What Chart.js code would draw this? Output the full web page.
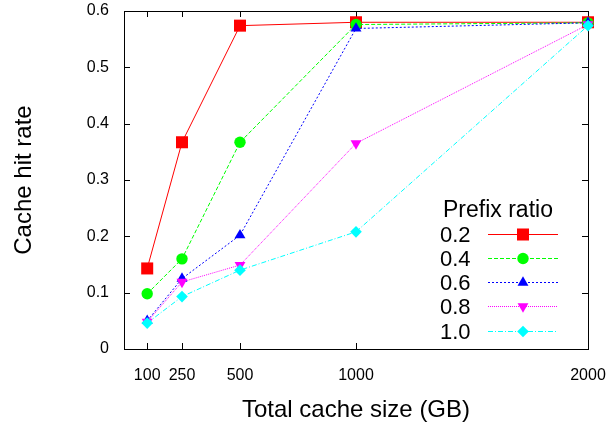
<!DOCTYPE html>
<html><head><meta charset="utf-8">
<script src="https://cdn.jsdelivr.net/npm/chart.js@4.4.1/dist/chart.umd.min.js"></script>
<style>html,body{margin:0;padding:0;background:#fff}#wrap{width:614px;height:425px;position:relative}</style>
</head><body><div id="wrap"><canvas id="c" width="614" height="425"></canvas></div>
<script>
// ---- data ----
const cacheSizes = [100, 250, 500, 1000, 2000];
const seriesNames = ['0.2', '0.4', '0.6', '0.8', '1.0'];
const hit02 = [0.143, 0.367, 0.574, 0.580, 0.580];
const hit04 = [0.098, 0.160, 0.367, 0.576, 0.579];
const hit06 = [0.050, 0.125, 0.202, 0.569, 0.579];
const hit08 = [0.048, 0.119, 0.149, 0.365, 0.576];
const hit10 = [0.046, 0.093, 0.140, 0.208, 0.574];
const xTickValues = [100, 250, 500, 1000, 2000];
const yTickValues = [0, 0.1, 0.2, 0.3, 0.4, 0.5, 0.6];
const legendTitle = 'Prefix ratio';
const xTitle = 'Total cache size (GB)';
const yTitle = 'Cache hit rate';

const seriesValues = [hit02, hit04, hit06, hit08, hit10];
const styles = [
  {color: '#ff0000', dash: [], pointStyle: 'rect', radius: 8.5, rotation: 0},
  {color: '#00ff00', dash: [4, 2], pointStyle: 'circle', radius: 5.7, rotation: 0},
  {color: '#0000ff', dash: [2, 2], pointStyle: 'triangle', radius: 6.3, rotation: 0},
  {color: '#ff00ff', dash: [1, 1], pointStyle: 'triangle', radius: 6.3, rotation: 180},
  {color: '#00ffff', dash: [5, 2, 1, 2], pointStyle: 'rectRot', radius: 5.8, rotation: 0}
];

Chart.defaults.font.family = '"Liberation Sans", Arial, sans-serif';
Chart.defaults.color = '#000';

const datasets = seriesValues.map((vals, i) => ({
  label: seriesNames[i],
  data: cacheSizes.map((x, j) => ({x: x, y: vals[j]})),
  borderColor: styles[i].color,
  backgroundColor: styles[i].color,
  borderWidth: 1,
  borderDash: styles[i].dash,
  pointStyle: styles[i].pointStyle,
  pointRadius: styles[i].radius,
  pointRotation: styles[i].rotation,
  pointBorderWidth: 0,
  pointBackgroundColor: styles[i].color,
  pointBorderColor: styles[i].color,
  tension: 0,
  clip: false,
  order: seriesValues.length - i
}));

const framePlugin = {
  id: 'frame',
  beforeDatasetsDraw(chart) {
    const {ctx, chartArea: a, scales: {x, y}} = chart;
    ctx.save();
    ctx.strokeStyle = '#000';
    ctx.lineWidth = 1;
    ctx.setLineDash([]);
    ctx.strokeRect(Math.round(a.left) + 0.5, Math.round(a.top) + 0.5,
      Math.round(a.right - a.left), Math.round(a.bottom - a.top));
    const tl = 6;
    ctx.beginPath();
    xTickValues.forEach(v => {
      const px = Math.round(x.getPixelForValue(v)) + 0.5;
      ctx.moveTo(px, a.bottom); ctx.lineTo(px, a.bottom - tl);
      ctx.moveTo(px, a.top); ctx.lineTo(px, a.top + tl);
    });
    yTickValues.forEach(v => {
      const py = Math.round(y.getPixelForValue(v)) + 0.5;
      ctx.moveTo(a.left, py); ctx.lineTo(a.left + tl, py);
      ctx.moveTo(a.right, py); ctx.lineTo(a.right - tl, py);
    });
    ctx.stroke();
    ctx.restore();
  },
  afterDraw(chart) {
    const {ctx, chartArea: a} = chart;
    ctx.save();
    const textLeft = a.left + 316;
    const lineX0 = a.left + 364, lineX1 = a.left + 434, markX = a.left + 399;
    ctx.fillStyle = '#000';
    ctx.textBaseline = 'alphabetic';
    ctx.textAlign = 'left';
    ctx.font = '23px "Liberation Sans", Arial, sans-serif';
    ctx.fillText(legendTitle, a.left + 319, a.top + 206);
    ctx.font = '22px "Liberation Sans", Arial, sans-serif';
    seriesNames.forEach((name, i) => {
      const base = a.top + 230.5 + 24.3 * i;
      const ly = Math.round(base - 8) + 0.5;
      ctx.fillStyle = '#000';
      ctx.fillText(name, textLeft, base);
      const s = styles[i];
      ctx.strokeStyle = s.color;
      ctx.lineWidth = 1;
      ctx.setLineDash(s.dash);
      ctx.beginPath();
      ctx.moveTo(lineX0, ly); ctx.lineTo(lineX1, ly);
      ctx.stroke();
      ctx.setLineDash([]);
      ctx.fillStyle = s.color;
      ctx.strokeStyle = s.color;
      Chart.helpers.drawPoint(ctx, {pointStyle: s.pointStyle, radius: s.radius, rotation: s.rotation, borderWidth: 0}, markX, ly);
    });
    ctx.restore();
  }
};

new Chart(document.getElementById('c'), {
  type: 'line',
  data: {datasets: datasets},
  options: {
    responsive: false,
    animation: false,
    devicePixelRatio: 1,
    layout: {padding: {top: 11, right: 26, left: 0, bottom: 0}},
    plugins: {legend: {display: false}, tooltip: {enabled: false}},
    scales: {
      x: {
        type: 'linear',
        min: 0, max: 2000,
        afterBuildTicks: s => { s.ticks = xTickValues.map(v => ({value: v})); },
        afterFit: s => { s.height = 76; s.paddingLeft = 0; s.paddingRight = 0; s.paddingTop = 0; s.paddingBottom = 0; },
        grid: {display: false, drawTicks: false},
        border: {display: false},
        ticks: {font: {size: 16}, padding: 17, maxRotation: 0, autoSkip: false, color: '#000',
          callback: v => String(v)},
        title: {display: true, text: xTitle, font: {size: 24}, padding: {top: 0, bottom: 0}, color: '#000'}
      },
      y: {
        type: 'linear',
        min: 0, max: 0.6,
        afterBuildTicks: s => { s.ticks = yTickValues.map(v => ({value: v})); },
        afterFit: s => { s.width = 124; s.paddingLeft = 0; s.paddingRight = 0; s.paddingTop = 0; s.paddingBottom = 0; },
        grid: {display: false, drawTicks: false},
        border: {display: false},
        ticks: {font: {size: 16}, padding: 15, color: '#000', callback: v => String(v)},
        title: {display: true, text: yTitle, font: {size: 24}, padding: {top: 10, bottom: 0}, color: '#000'}
      }
    }
  },
  plugins: [framePlugin]
});
</script>
</body></html>
